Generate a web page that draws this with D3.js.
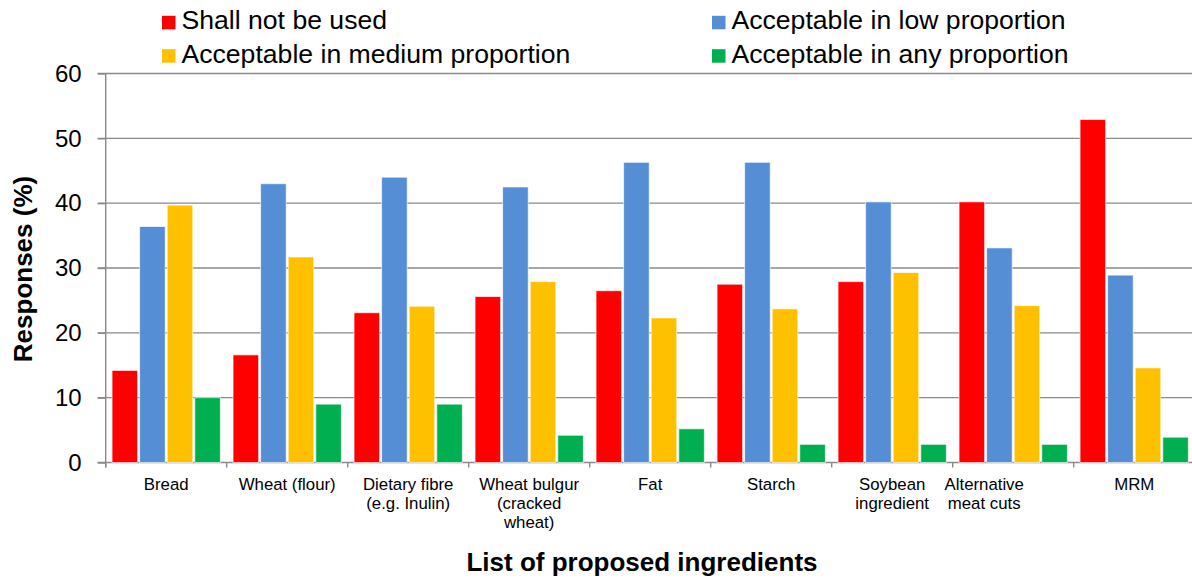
<!DOCTYPE html>
<html>
<head>
<meta charset="utf-8">
<script src="https://cdn.jsdelivr.net/npm/d3@7"></script>
<style>
  html, body { margin: 0; padding: 0; background: #fff; }
  svg { display: block; font-family: "Liberation Sans", Arial, sans-serif; }
</style>
</head>
<body>
<svg id="chart" width="1192" height="581"></svg>
<script>
// Ingredient categories (line breaks mark wrapped labels)
const categories = [
  "Bread",
  "Wheat (flour)",
  "Dietary fibre\n(e.g. Inulin)",
  "Wheat bulgur\n(cracked\nwheat)",
  "Fat",
  "Starch",
  "Soybean\ningredient",
  "Alternative\nmeat cuts",
  "MRM"
];

const seriesNames = [
  "Shall not be used",
  "Acceptable in low proportion",
  "Acceptable in medium proportion",
  "Acceptable in any proportion"
];

// Share of responses (%) per category
const shallNotBeUsed   = [14.2, 16.6, 23.1, 25.6, 26.5, 27.5, 27.9, 40.2, 52.9];
const lowProportion    = [36.4, 43.0, 44.0, 42.5, 46.3, 46.3, 40.2, 33.1, 28.9];
const mediumProportion = [39.7, 31.7, 24.1, 27.9, 22.3, 23.7, 29.3, 24.2, 14.6];
const anyProportion    = [10.0,  9.0,  9.0,  4.2,  5.2,  2.8,  2.8,  2.8,  3.9];

const seriesColors = ["#ff0000", "#558ed5", "#ffc000", "#00b050"];
const yTicks = [0, 10, 20, 30, 40, 50, 60];

const seriesValues = [shallNotBeUsed, lowProportion, mediumProportion, anyProportion];

const svg = d3.select("#chart");
const W = 1192;
const plot = { left: 105.7, right: 1194.7, top: 73.5, bottom: 462.5 };
const gridColor = "#8a8a8a";

const x0 = d3.scaleBand().domain(categories).range([plot.left, plot.right]).padding(0);
const x1 = d3.scaleBand().domain(seriesNames).range([0, x0.bandwidth()])
  .paddingInner(0).paddingOuter(0.194);
const y = d3.scaleLinear().domain([0, 60]).range([plot.bottom, plot.top]);

// Horizontal gridlines (they start under the tick marks)
svg.append("g")
  .selectAll("line")
  .data(yTicks)
  .join("line")
  .attr("x1", plot.left - 8)
  .attr("x2", W)
  .attr("y1", d => y(d))
  .attr("y2", d => y(d))
  .attr("stroke", gridColor)
  .attr("stroke-width", 1.4);

// Bars
const rows = categories.map((c, i) => ({
  category: c,
  values: seriesNames.map((s, k) => ({ series: s, value: seriesValues[k][i], color: seriesColors[k] }))
}));

const groups = svg.append("g")
  .selectAll("g")
  .data(rows)
  .join("g")
  .attr("transform", d => `translate(${x0(d.category)},0)`);

groups.selectAll("rect")
  .data(d => d.values)
  .join("rect")
  .attr("x", d => x1(d.series) + 1)
  .attr("width", x1.bandwidth() - 2)
  .attr("y", d => y(d.value))
  .attr("height", d => y(0) - y(d.value))
  .attr("fill", d => d.color)
  .attr("stroke", "#ffffff")
  .attr("stroke-opacity", 0.65)
  .attr("stroke-width", 1);

// Y axis
const yAxis = svg.append("g")
  .attr("transform", `translate(${plot.left},0)`)
  .call(d3.axisLeft(y).tickValues(yTicks).tickSize(8).tickSizeOuter(0).tickPadding(16));
yAxis.select(".domain").attr("stroke", gridColor).attr("stroke-width", 1.4)
  .attr("d", `M0,${plot.top}V${plot.bottom + 5}`);
yAxis.selectAll(".tick line").attr("stroke", gridColor).attr("stroke-width", 1.4);
yAxis.selectAll(".tick text")
  .attr("font-size", 24)
  .attr("fill", "#000")
  .attr("font-family", "Liberation Sans, Arial, sans-serif");

// X axis category separators
const xAxis = svg.append("g");
const bounds = categories.map(c => x0(c)).concat([plot.right]);
xAxis.selectAll("line.sep")
  .data(bounds)
  .join("line")
  .attr("class", "sep")
  .attr("x1", d => d).attr("x2", d => d)
  .attr("y1", plot.bottom).attr("y2", plot.bottom + 5)
  .attr("stroke", gridColor).attr("stroke-width", 1.4);

// Category labels, wrapped on line breaks
const labelShift = c => (c === "Alternative\nmeat cuts" ? -29 : 0);
const labels = xAxis.selectAll("text.cat")
  .data(categories)
  .join("text")
  .attr("class", "cat")
  .attr("x", d => x0(d) + x0.bandwidth() / 2 + labelShift(d))
  .attr("y", plot.bottom + 27)
  .attr("text-anchor", "middle")
  .attr("font-size", 16.8)
  .attr("fill", "#000");
labels.each(function(d) {
  const t = d3.select(this);
  const cx = +t.attr("x");
  d.split("\n").forEach((line, i) => {
    t.append("tspan").attr("x", cx).attr("dy", i === 0 ? 0 : 19.3).text(line);
  });
});

// Axis titles
svg.append("text")
  .attr("x", 642)
  .attr("y", 571)
  .attr("text-anchor", "middle")
  .attr("font-size", 26)
  .attr("font-weight", "bold")
  .attr("fill", "#000")
  .text("List of proposed ingredients");

svg.append("text")
  .attr("transform", "translate(32,269) rotate(-90)")
  .attr("text-anchor", "middle")
  .attr("font-size", 26)
  .attr("font-weight", "bold")
  .attr("fill", "#000")
  .text("Responses (%)");

// Legend: two columns, two rows
const legendCols = [162, 712];
const legendRows = [29.3, 62.7];
const legend = svg.append("g")
  .selectAll("g")
  .data(seriesNames)
  .join("g")
  .attr("transform", (d, i) => `translate(${legendCols[i % 2]},${legendRows[Math.floor(i / 2)]})`);
legend.append("rect")
  .attr("x", 0).attr("y", -13.5)
  .attr("width", 13.5).attr("height", 13.5)
  .attr("fill", (d, i) => seriesColors[i]);
legend.append("text")
  .attr("x", 19.5)
  .attr("y", 0)
  .attr("font-size", 26.6)
  .attr("fill", "#000")
  .text(d => d);
</script>
</body>
</html>
